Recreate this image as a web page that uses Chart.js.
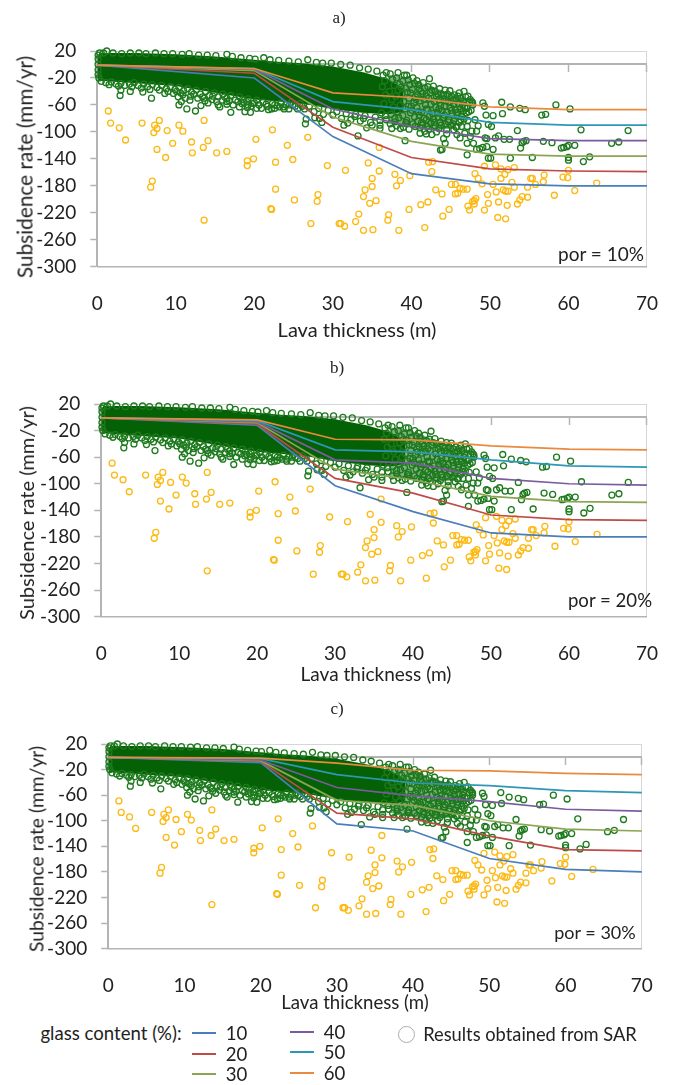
<!DOCTYPE html>
<html>
<head>
<meta charset="utf-8">
<title>Subsidence rate vs lava thickness</title>
<script src="https://cdn.jsdelivr.net/npm/chart.js@4/dist/chart.umd.min.js"></script>
<style>
  html, body { margin: 0; padding: 0; background: #fff; }
  #page { position: relative; width: 684px; height: 1085px; overflow: hidden; }
  canvas { position: absolute; left: 0; }
  .lbl { position: absolute; white-space: nowrap; color: #222; font-family: Lato, sans-serif; transform: translate(-50%, -50%); }
</style>
</head>
<body>
<div id="page"></div>
<script>
// model curves, same x knots in the three panels
var thicknessKnots = [0, 20, 30, 40, 50, 60, 70];
var xTicks = [0, 10, 20, 30, 40, 50, 60, 70];
var yTicks = [20, -20, -60, -100, -140, -180, -220, -260, -300];
var glassLevels = [10, 20, 30, 40, 50, 60];

// por = 10%
var por10Glass10 = [-1, -20, -107, -162, -177, -180, -180];
var por10Glass20 = [-1, -13, -93, -138, -155, -158, -159];
var por10Glass30 = [-1, -9, -78, -114, -133, -136, -136];
var por10Glass40 = [-1, -7, -66, -92, -110, -113, -113];
var por10Glass50 = [-1, -6, -55, -67, -86, -90, -90];
var por10Glass60 = [-1, -6, -42, -49, -63, -67, -67];
// por = 20%
var por20Glass10 = [-1, -12, -103, -142, -174, -180, -180];
var por20Glass20 = [-1, -10, -92, -114, -147, -154, -155];
var por20Glass30 = [-1, -8, -78, -94, -119, -127, -128];
var por20Glass40 = [-1, -6.5, -64, -69, -92, -100, -102];
var por20Glass50 = [-1, -5, -49, -52, -64, -73, -75];
var por20Glass60 = [-1, -4, -33, -34, -43, -48, -49];
// por = 30%
var por30Glass10 = [-1, -9, -105, -116, -159, -176, -180];
var por30Glass20 = [-1, -7, -88, -97, -124, -145, -147];
var por30Glass30 = [-1, -6, -68, -76, -100, -113, -116];
var por30Glass40 = [-1, -5, -48, -61, -70, -82, -85];
var por30Glass50 = [-1, -3, -28, -41, -45, -53, -56];
var por30Glass60 = [-1, -2, -10, -21, -22, -26, -28];

// saturated part of the SAR cloud, read as upper / lower envelope
var coreX = [0, 0.3, 5, 10, 15, 20, 23, 26, 30, 34, 37, 39];
var coreTop = [13, 17, 17, 15, 12, 7, 4, 2, -3, -12, -22, -36];
var coreBottom = [-20, -24, -28, -32, -42, -52, -55, -58, -66, -72, -74, -70];
// speckled part of the cloud, not fully saturated
var looseX = [37, 39, 41, 43, 45, 47];
var looseTop = [-15, -18, -26, -35, -42, -50];
var looseBottom = [-88, -92, -96, -98, -95, -70];

// SAR results (thickness, rate), deep group
var sarDeep = [
  [1.4,-69],[1.7,-87],[2.8,-94],[3.6,-112],[5.7,-87],[7.3,-90],[7.6,-95],[7.2,-101],[7.9,-83],[8.9,-98],
  [10.4,-90],[10.9,-99],[7.6,-126],[8.7,-138],[9.6,-117],[12,-115],[12.1,-131],[13.6,-83],[13.5,-123],[14.1,-113],
  [15.2,-131],[16.5,-129],[19.1,-143],[19.1,-150],[19.9,-140],[20.2,-111],[22.3,-97],[22.7,-145],[24.2,-120],[24.9,-141],
  [26.8,-108],[29.3,-150],[7,-173],[6.8,-182],[22.7,-185],[28.1,-193],[28,-203],[25.1,-201],[22.1,-214],[22.2,-215],
  [13.6,-231],[27.2,-236],[30.8,-236],[31.6,-157],[31,-236],[31.5,-240],[32.9,-233],[33.3,-222],[33.9,-246],[35.1,-245],
  [37,-231],[37.1,-223],[38.4,-246],[35.9,-123],[34.5,-146],[35.9,-158],[35,-169],[35,-181],[34.1,-186],[33.9,-196],
  [34.7,-206],[35.5,-202],[37.9,-163],[38.6,-172],[38.1,-180],[39.8,-165],[39.7,-215],[41.2,-208],[42.1,-204],[41.7,-242],
  [42.2,-145],[42.7,-144],[42.6,-159],[43.1,-186],[43.9,-192],[44.8,-215],[44,-225],[45.1,-178],[45.6,-178],[46.2,-184],
  [45.9,-191],[45.6,-192],[46.6,-185],[47.1,-185],[48.1,-162],[48.5,-169],[49,-177],[49.3,-151],[50.7,-149],[51.4,-155],
  [51.9,-163],[52.3,-156],[53.1,-153],[51.4,-169],[50.4,-178],[49.7,-193],[50.8,-189],[51.7,-186],[52,-188],[52.3,-188],
  [52.8,-175],[53.1,-182],[48.2,-199],[48,-202],[47.8,-203],[47.2,-210],[48,-207],[47.4,-216],[49.8,-206],[49.3,-216],
  [51.1,-204],[52.2,-209],[51,-227],[52,-229],[53.5,-207],[53.8,-201],[54.1,-196],[54.8,-197],[54.8,-182],[55.2,-169],
  [55.4,-169],[55.8,-178],[56.8,-174],[56.9,-164],[58.2,-194],[59.3,-167],[59.9,-168],[60,-157],[60.8,-187],[63.6,-176]
];

// SAR results, shallow group (everything outside the saturated core)
var sarShallow = [
  // upper and left edge of the cloud
  [0.1,14],[0.1,8],[0.1,0],[0.1,-8],[0.1,-15],[0.2,-20],[0.3,17],[1.2,20],[0.8,17],[2,17],[3.1,16],[4.2,17],[5.3,17],
  [6.2,16],[7.4,17],[8.5,16],[9.6,16],[10.8,15],[11.7,16],[12.9,14],[14,14],[15.1,13],[16.5,15],[17.2,12],[18.3,10],
  [19.4,9],[20.1,8],[21.2,10],[22,7],[23.1,6],[24.4,5],[25.6,4],[26.8,7],[27.9,3],[28.7,2],[29.8,2],[31,0],[32.2,-1],
  [33.4,-5],[34.5,-7],[35.6,-10],[36.8,-12],
  // fuzz under the core
  [0.5,-25],[1.1,-27],[1.8,-26],[2.4,-29],[3,-28],[3.5,-31],[4.1,-29],[4.7,-27],[5.2,-31],[5.9,-29],[6.4,-33],[7,-30],
  [7.6,-34],[8.2,-31],[8.8,-36],[9.3,-33],[9.9,-37],[10.4,-34],[11,-39],[11.5,-36],[12,-41],[12.6,-38],[13.1,-44],
  [13.8,-40],[14.3,-46],[14.9,-42],[15.4,-48],[16,-44],[16.5,-50],[17,-46],[17.6,-53],[18.1,-48],[18.7,-56],[19.2,-51],
  [19.8,-58],[20.3,-53],[10.9,-45],[11.9,-47],[12.8,-50],[14.6,-52],[15.9,-53],[17.3,-60],[18.4,-58],[19.1,-64],[20.6,-60],
  [21.1,-56],[21.7,-62],[22.3,-58],[22.9,-61],[23.4,-57],[24,-60],[24.7,-56],[25.2,-62],[25.8,-58],[26.4,-66],[27,-62],
  [27.6,-70],[28.2,-65],[28.8,-74],[29.4,-68],[30,-75],[30.5,-70],[31.1,-80],[31.7,-73],[32.3,-82],[32.9,-74],[33.5,-84],
  [34.1,-76],[34.8,-86],[35.4,-78],[36,-83],[36.7,-76],[37.3,-88],[37.9,-80],
  [1.5,-30],[2.7,-32],[4.4,-33],[5.6,-35],[6.7,-37],[7.9,-38],[9,-40],[9.7,-43],[10.6,-42],[11.2,-50],[12.3,-44],[13.4,-48],
  [14.1,-57],[14.7,-47],[15.2,-55],[16.2,-48],[16.8,-54],[17.9,-55],[18.5,-52],[19,-55],[19.6,-62],[20,-57],[20.9,-65],
  [21.5,-59],[22.6,-60],[23.7,-63],[24.9,-60],[25.5,-66],[26.1,-62],
  // loose points below the fuzz
  [3,-38],[2.9,-46],[4.2,-40],[5.8,-41],[6.9,-50],[8.6,-43],[10.1,-40],[10.3,-48],[10.4,-60],[10.7,-55],[11.4,-66],
  [11.8,-53],[12.5,-69],[13.2,-61],[13.7,-54],[13.6,-50],[15.4,-60],[15.6,-63],[16.5,-55],[16.5,-59],[17,-71],[18.1,-63],
  [18.8,-70],[19.2,-60],[19.5,-71],[20.3,-65],[21.8,-67],[22.2,-66],[22.6,-65],[23.2,-63],[23.8,-66],[24.4,-66],[24.5,-60],
  [26.6,-81],[26.5,-88],[28.3,-80],[28.6,-86],[27.7,-79],[31.4,-90],[31.9,-87],[33.2,-106],[32.8,-77],[33.9,-80],[34.3,-94],
  [35,-90],[36,-90],[36,-95],[37.5,-95],[38.6,-95],[39.2,-113],[41.1,-102],[41.9,-103],[42.6,-104],[41.9,-82],
  // speckled part, 36 to 48 m
  [36.4,-16],[36.6,-24],[36.3,-33],[36.7,-45],[36.5,-58],[36.2,-72],[36.8,-82],
  [37.3,-14],[37.6,-22],[37.8,-31],[37.2,-40],[37.5,-52],[37.7,-63],[37.4,-74],[37.9,-85],
  [38.3,-12],[38.1,-20],[38.5,-29],[38.3,-38],[38,-47],[38.6,-60],[38.2,-70],[38.4,-79],[38.1,-91],
  [39.1,-16],[38.9,-25],[39.3,-35],[38.8,-44],[39,-55],[39.2,-66],[38.9,-76],[39.3,-86],[39,-93],
  [39.6,-23],[39.4,-16],[39.8,-30],[39.5,-41],[39.7,-50],[39.6,-62],[39.9,-72],[39.4,-83],[39.7,-96],
  [40.2,-20],[40.4,-28],[40.1,-37],[40.5,-48],[40.3,-57],[40.1,-68],[40.4,-78],[40.2,-88],
  [40.9,-30],[40.7,-24],[41,-36],[40.8,-45],[41.1,-54],[40.7,-64],[41,-75],[40.8,-84],[41.1,-94],
  [41.5,-27],[41.7,-35],[41.4,-43],[41.6,-52],[41.8,-60],[41.3,-71],[41.6,-80],[41.4,-90],[41.7,-99],
  [42.3,-21],[42.1,-33],[42.4,-42],[42.2,-50],[42.5,-59],[42.1,-67],[42.3,-77],[42.5,-87],[42.2,-96],
  [43,-40],[42.8,-32],[43.2,-47],[42.9,-55],[43.1,-63],[43.3,-72],[42.8,-81],[43,-91],[43.2,-100],
  [43.6,-36],[43.8,-44],[43.5,-52],[43.7,-61],[43.9,-69],[43.4,-78],[43.7,-86],[43.5,-95],
  [44.3,-38],[44.1,-46],[44.4,-54],[44.2,-62],[44.5,-71],[44,-79],[44.3,-88],[44.5,-97],
  [44.9,-39],[45.1,-47],[44.8,-56],[45,-64],[45.2,-73],[44.8,-82],[45.1,-90],
  [45.5,-45],[45.7,-51],[45.4,-59],[45.6,-67],[45.8,-75],[45.4,-84],[45.7,-93],
  [46.1,-42],[46.3,-50],[46,-58],[46.2,-66],[46.4,-77],[46.1,-86],
  [46.7,-40],[46.9,-48],[46.6,-55],[46.8,-64],[47,-72],[46.7,-81],
  [47.2,-47],[47.4,-56],[47.1,-65],[47.3,-70],[47.2,-83],[47.7,-55],[47.8,-60],[47.6,-68],
  [38.7,-34],[39.9,-42],[40.6,-52],[41.2,-40],[41.9,-47],[42.6,-38],[43.4,-44],[44,-51],[44.6,-44],[45.3,-53],[45.9,-47],
  [46.5,-60],[47.5,-52],[40,-62],[40.9,-70],[41.9,-66],[42.7,-73],[43.5,-66],[44.2,-75],[45.1,-68],[45.9,-71],[46.6,-69],
  [39.4,-88],[40.5,-92],[41.3,-86],[42,-92],[42.9,-86],[43.8,-90],[44.7,-85],[45.3,-88],[46.3,-82],
  [43.7,-127],[43.9,-126],[44.5,-103],[44.3,-117],[44.1,-110],[45.4,-97],[45.8,-92],[46.4,-92],[47.1,-92],[48.5,-91],
  [48.3,-99],[47.7,-99],[46.8,-102],[47.5,-107],[46.2,-109],[45.8,-104],[47.1,-117],[47.9,-117],[47.1,-134],
  // sparse tail
  [47.8,-57],[49.1,-57],[49.3,-62],[49.5,-75],[50.4,-76],[51.5,-56],[51.6,-73],[52.6,-63],[53.8,-65],[54.5,-67],
  [56.6,-75],[57.1,-74],[58.4,-60],[60.2,-66],[48.1,-82],[49.8,-89],[50.2,-92],[53.5,-98],[61.6,-97],[67.6,-98],
  [49.4,-109],[49.6,-110],[50.7,-109],[51.1,-106],[51.8,-111],[52.5,-111],[54.1,-116],[54.3,-114],[54.6,-113],[56.8,-114],
  [57.9,-116],[60.8,-120],[65.5,-117],[66.4,-115],[59.1,-124],[59.4,-123],[59.8,-122],[60,-120],[53.9,-124],[50.4,-126],
  [49.6,-122],[49.1,-123],[48.7,-125],[48.3,-126],[49.8,-139],[50.1,-139],[52.6,-139],[55.4,-138],[60,-138],[60,-142],
  [61.9,-144],[62.7,-137]
];

var glassColors = ['#4a7ebb', '#be4b48', '#8ba552', '#7a5c9e', '#2e97b8', '#e98a3e'];
var greenMark = '#1d7a1d';
var coreColor = '#056105';
var looseColor = 'rgba(5, 97, 5, 0.5)';
var deepMark = '#fdb913';
var axisGrey = '#b4b4b4';
var edgeGrey = '#d6d6d6';

var page = document.getElementById('page');

function addText(txt, x, y, size, extra) {
  var d = document.createElement('div');
  d.className = 'lbl';
  d.textContent = txt;
  d.style.left = x + 'px';
  d.style.top = y + 'px';
  d.style.fontSize = size + 'px';
  if (extra && extra.rotate) d.style.transform = 'translate(-50%, -50%) rotate(-90deg)';
  if (extra && extra.serif) d.style.fontFamily = '"Liberation Serif", serif';
  page.appendChild(d);
}

function toPairs(xs, ys) {
  return xs.map(function (x, i) { return { x: x, y: ys[i] }; });
}

function pointsOf(list) {
  return list.map(function (p) { return { x: p[0], y: p[1] }; });
}

function bandDatasets(name, xs, top, bottom, color, order) {
  return [{
    label: name + ' top',
    data: toPairs(xs, top),
    showLine: true,
    pointRadius: 0,
    borderWidth: 0,
    backgroundColor: color,
    fill: '+1',
    order: order,
    clip: false
  }, {
    label: name + ' bottom',
    data: toPairs(xs, bottom),
    showLine: true,
    pointRadius: 0,
    borderWidth: 0,
    order: order + 1,
    clip: false
  }];
}

function makePanel(cfg) {
  var canvas = document.createElement('canvas');
  canvas.width = 684;
  canvas.height = cfg.height;
  canvas.style.top = cfg.canvasTop + 'px';
  page.appendChild(canvas);

  var datasets = [];
  cfg.curves.forEach(function (ys, i) {
    datasets.push({
      label: 'glass ' + glassLevels[i],
      data: toPairs(thicknessKnots, ys),
      showLine: true,
      pointRadius: 0,
      borderColor: glassColors[i],
      borderWidth: 1.7,
      order: 6 - i,
      clip: false
    });
  });
  datasets.push({
    label: 'SAR deep',
    data: pointsOf(sarDeep),
    pointRadius: 3,
    pointBorderWidth: 1.3,
    pointBorderColor: deepMark,
    pointBackgroundColor: 'transparent',
    order: 10,
    clip: false
  });
  datasets.push({
    label: 'SAR shallow',
    data: pointsOf(sarShallow),
    pointRadius: 3,
    pointBorderWidth: 1.3,
    pointBorderColor: greenMark,
    pointBackgroundColor: 'transparent',
    order: 11,
    clip: false
  });
  datasets = datasets.concat(bandDatasets('SAR core', coreX, coreTop, coreBottom, coreColor, 12));
  datasets = datasets.concat(bandDatasets('SAR loose', looseX, looseTop, looseBottom, looseColor, 14));

  var tickFont = { family: 'Lato, sans-serif', size: cfg.tickSize };

  new Chart(canvas.getContext('2d'), {
    type: 'scatter',
    data: { datasets: datasets },
    options: {
      responsive: false,
      animation: false,
      layout: { padding: { top: cfg.top, right: 684 - cfg.right, left: 0, bottom: 0 } },
      plugins: { legend: { display: false }, tooltip: { enabled: false } },
      scales: {
        x: {
          type: 'linear',
          min: 0,
          max: 70,
          afterBuildTicks: function (s) { s.ticks = xTicks.map(function (v) { return { value: v }; }); },
          afterFit: function (s) { s.height = cfg.height - cfg.bottom; },
          ticks: { font: tickFont, color: '#222', padding: cfg.xLabelPad, maxRotation: 0, autoSkip: false },
          grid: {
            drawTicks: false,
            color: function (c) { return c.tick && c.tick.value === 70 ? edgeGrey : 'transparent'; }
          },
          border: { color: axisGrey, width: 1.5 }
        },
        x0: {
          type: 'linear',
          position: { y: 0 },
          min: 0,
          max: 70,
          ticks: { display: false, stepSize: 10 },
          grid: { drawOnChartArea: false, tickLength: 7, tickColor: axisGrey, tickWidth: 1.5 },
          border: { color: axisGrey, width: 2 }
        },
        y: {
          type: 'linear',
          min: -300,
          max: 20,
          afterBuildTicks: function (s) { s.ticks = yTicks.map(function (v) { return { value: v }; }); },
          afterFit: function (s) { s.width = cfg.left; },
          ticks: { font: tickFont, color: '#222', padding: cfg.yLabelPad, autoSkip: false },
          grid: {
            tickLength: 7,
            tickColor: axisGrey,
            tickWidth: 1.5,
            color: function (c) { return c.tick && c.tick.value === 20 ? edgeGrey : 'transparent'; }
          },
          border: { color: axisGrey, width: 2 }
        }
      }
    }
  });

  addText(cfg.panelName, cfg.nameX, cfg.nameY, 17, { serif: true });
  addText('Subsidence rate (mm/yr)', cfg.yTitleX, cfg.yTitleY, cfg.titleSize, { rotate: true });
  addText('Lava thickness (m)', cfg.xTitleX, cfg.xTitleY, cfg.xTitleSize);
  addText(cfg.porText, cfg.porX, cfg.porY, cfg.porSize);
}

makePanel({
  panelName: 'a)', nameX: 339, nameY: 18, porText: 'por = 10%', porX: 601, porY: 253, porSize: 19,
  canvasTop: 0, height: 340, left: 97.3, right: 647, top: 51, bottom: 266.7,
  tickSize: 19, xLabelPad: 26, yLabelPad: 14, titleSize: 20.8, xTitleSize: 20,
  yTitleX: 24, yTitleY: 167, xTitleX: 357, xTitleY: 329,
  curves: [por10Glass10, por10Glass20, por10Glass30, por10Glass40, por10Glass50, por10Glass60]
});
makePanel({
  panelName: 'b)', nameX: 337, nameY: 368, porText: 'por = 20%', porX: 610, porY: 600, porSize: 18.6,
  canvasTop: 345, height: 345, left: 101.2, right: 655.8, top: 59, bottom: 271.7,
  tickSize: 19, xLabelPad: 26, yLabelPad: 14, titleSize: 20, xTitleSize: 19,
  yTitleX: 26, yTitleY: 513, xTitleX: 376, xTitleY: 673,
  curves: [por20Glass10, por20Glass20, por20Glass30, por20Glass40, por20Glass50, por20Glass60]
});
makePanel({
  panelName: 'c)', nameX: 337, nameY: 709, porText: 'por = 30%', porX: 595, porY: 932, porSize: 18,
  canvasTop: 695, height: 320, left: 108.2, right: 641.8, top: 49, bottom: 253.7,
  tickSize: 19, xLabelPad: 26, yLabelPad: 14, titleSize: 19.3, xTitleSize: 18.6,
  yTitleX: 35.5, yTitleY: 849, xTitleX: 355, xTitleY: 1002,
  curves: [por30Glass10, por30Glass20, por30Glass30, por30Glass40, por30Glass50, por30Glass60]
});

// legend under the panels
addText('glass content (%):', 111, 1033, 18.6);
var legendX = [192, 192, 192, 290, 290, 290];
var legendY = [1033, 1054, 1074, 1032, 1052, 1073];
glassLevels.forEach(function (g, i) {
  var line = document.createElement('div');
  line.style.cssText = 'position:absolute;width:24px;height:2px;background:' + glassColors[i] +
    ';left:' + legendX[i] + 'px;top:' + (legendY[i] - 1) + 'px';
  page.appendChild(line);
  addText(String(g), legendX[i] + 44.5, legendY[i], 18.6);
});
var sarIcon = document.createElement('div');
sarIcon.style.cssText = 'position:absolute;left:398px;top:1026px;width:15px;height:15px;border:1.3px solid #aaa;border-radius:50%';
page.appendChild(sarIcon);
addText('Results obtained from SAR', 530, 1034, 18.3);
</script>
</body>
</html>
